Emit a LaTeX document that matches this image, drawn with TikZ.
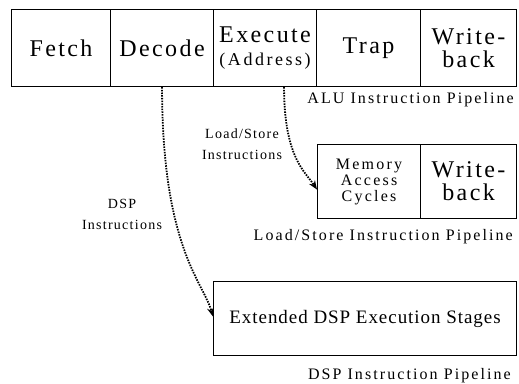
\documentclass[tikz,border=0pt]{standalone}
\usepackage{fontspec}
\setmainfont{Liberation Serif}
\newfontfamily\bigfam{Liberation Serif}[LetterSpace=10]
\newfontfamily\midfam{Liberation Serif}[LetterSpace=14]
\newfontfamily\dspfam{Liberation Serif}[LetterSpace=5]
\newfontfamily\lblfam{Liberation Serif}[LetterSpace=13]
\newfontfamily\smallfam{Liberation Serif}[LetterSpace=9]
\usetikzlibrary{arrows.meta}
\tikzset{
  stagebox/.style={draw, line width=1.1pt, inner sep=0pt, anchor=north west, align=center, minimum height=77pt},
  big/.style={font=\bigfam\fontsize{24}{24}\selectfont},
  mid/.style={font=\midfam\fontsize{16}{17}\selectfont},
  lbl/.style={font=\lblfam\fontsize{16}{18}\selectfont, inner sep=0pt},
  small/.style={font=\smallfam\fontsize{14}{21}\selectfont, inner sep=0pt, align=center},
  flow/.style={line width=1.8pt, dash pattern=on 1.5pt off 1.2pt, -{Stealth[length=9pt,width=7pt]}}
}
\begin{document}
\begin{tikzpicture}[x=1pt,y=-1pt]
\useasboundingbox (0,0) rectangle (519,383);
% ALU pipeline
\node[stagebox, big, minimum width=99pt] (fetch) at (11,9) {Fetch};
\node[stagebox, big, minimum width=103pt] (decode) at (110,9) {Decode};
\node[stagebox, big, minimum width=103pt] (exec) at (213,9) {Execute\\[-1pt]{\midfam\fontsize{18}{18}\selectfont(Address)}};
\node[stagebox, big, minimum width=104pt] (trap) at (316,9) {Trap};
\node[stagebox, big, minimum width=96pt] (wb) at (420,9) {Write-\\[-1pt]back};
\node[lbl, anchor=east] (alu) at (514,100) {ALU Instruction Pipeline};
% Load/store pipeline
\node[stagebox, mid, minimum width=103pt, minimum height=74pt] (mem) at (317,144) {Memory\\[-1pt]Access\\[-1pt]Cycles};
\node[stagebox, big, minimum width=96pt, minimum height=74pt] (wb2) at (420,144) {Write-\\[-1pt]back};
\node[lbl, anchor=east] (lsl) at (513,237) {Load/Store Instruction Pipeline};
% DSP pipeline
\node[stagebox, minimum width=303pt, minimum height=74pt, font=\dspfam\fontsize{19}{20}\selectfont] (dsp) at (213,281) {Extended DSP Execution Stages};
\node[lbl, anchor=east] (dspl) at (511,376) {DSP Instruction Pipeline};
% labels on arrows
\node[small] (lsi) at (242,144) {Load/Store\\Instructions};
\node[small] (dsi) at (122,214) {DSP\\Instructions};
% arrows
\draw[flow] (decode.south) .. controls +(0,160) and +(-10,-35) .. ([yshift=2pt]dsp.west);
\draw[flow] ([xshift=19pt]exec.south) .. controls +(0,70) and +(-12,-18) .. ([yshift=-8pt]mem.west);
\end{tikzpicture}
\end{document}
